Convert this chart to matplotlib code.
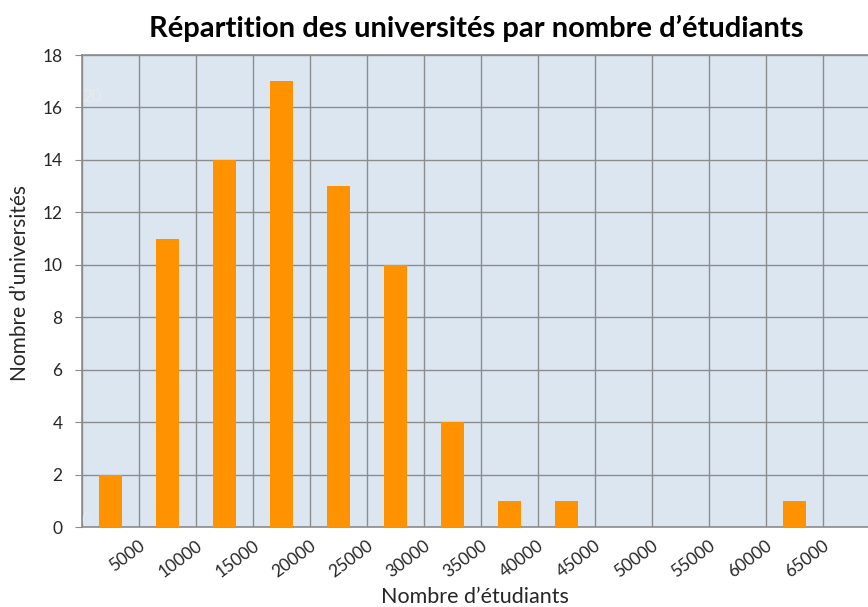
import matplotlib
matplotlib.use("Agg")
import matplotlib.pyplot as plt
import matplotlib.transforms as mtransforms
import numpy as np

categories = ["5000", "10000", "15000", "20000", "25000", "30000", "35000",
              "40000", "45000", "50000", "55000", "60000", "65000"]
counts = [2, 11, 14, 17, 13, 10, 4, 1, 1, 0, 0, 0, 1]
yticks = [0, 2, 4, 6, 8, 10, 12, 14, 16, 18]

plt.rcParams['font.family'] = ['Lato', 'DejaVu Sans']

fig = plt.figure(figsize=(8.68, 6.07), dpi=100)
ax = fig.add_axes([82/868, 1-527/607, 1-82/868, (527-55)/607])
ax.set_facecolor("#DCE6F1")

x = np.arange(len(categories))
ax.bar(x, counts, width=0.4, color="#FF9200", zorder=3)

ax.set_xlim(-0.5, 13.29)
ax.set_ylim(0, 18)
ax.set_yticks(yticks)
ax.set_yticklabels([str(v) for v in yticks], fontsize=12.5, color="#262626")

ax.set_xticks(x)
ax.set_xticks(np.arange(-0.5, 13.5, 1), minor=True)
ax.tick_params(axis='x', which='both', length=0)
ax.tick_params(axis='y', length=5, color="#8c8c8c", pad=9)
ax.grid(True, axis='y', which='major', color="#8c8c8c", linewidth=1, zorder=1)
ax.grid(True, axis='x', which='minor', color="#8c8c8c", linewidth=1, zorder=1)
ax.grid(False, axis='x', which='major')

offset = mtransforms.ScaledTranslation(0.28, -0.06, fig.dpi_scale_trans)
ax.set_xticklabels(categories, rotation=37, ha='right', rotation_mode='anchor',
                   fontsize=12.5, color="#262626")
for lbl in ax.get_xticklabels():
    lbl.set_transform(lbl.get_transform() + offset)

for s in ['left', 'bottom', 'top']:
    ax.spines[s].set_color("#8c8c8c")
    ax.spines[s].set_linewidth(1.2)
ax.spines['right'].set_visible(False)

# faint leftover labels
ax.text(0.0, 0.912, "20", transform=ax.transAxes, fontsize=12, color="#eaeaea",
        ha='left', va='center', zorder=2)
ax.text(0.0, 0.012, "0", transform=ax.transAxes, fontsize=12, color="#e4e9f0",
        ha='left', va='center', zorder=2)

fig.text(476/868, 1-28/607, "Répartition des universités par nombre d’étudiants",
         fontsize=21, fontweight='bold', ha='center', va='center', color="#000000")
fig.text(475/868, 1-597/607, "Nombre d’étudiants", fontsize=15.5, ha='center',
         va='center', color="#262626")
fig.text(20/868, 1-283/607, "Nombre d’universités", fontsize=15, ha='center',
         va='center', rotation=90, color="#262626")

fig.savefig("out.png", dpi=100)
